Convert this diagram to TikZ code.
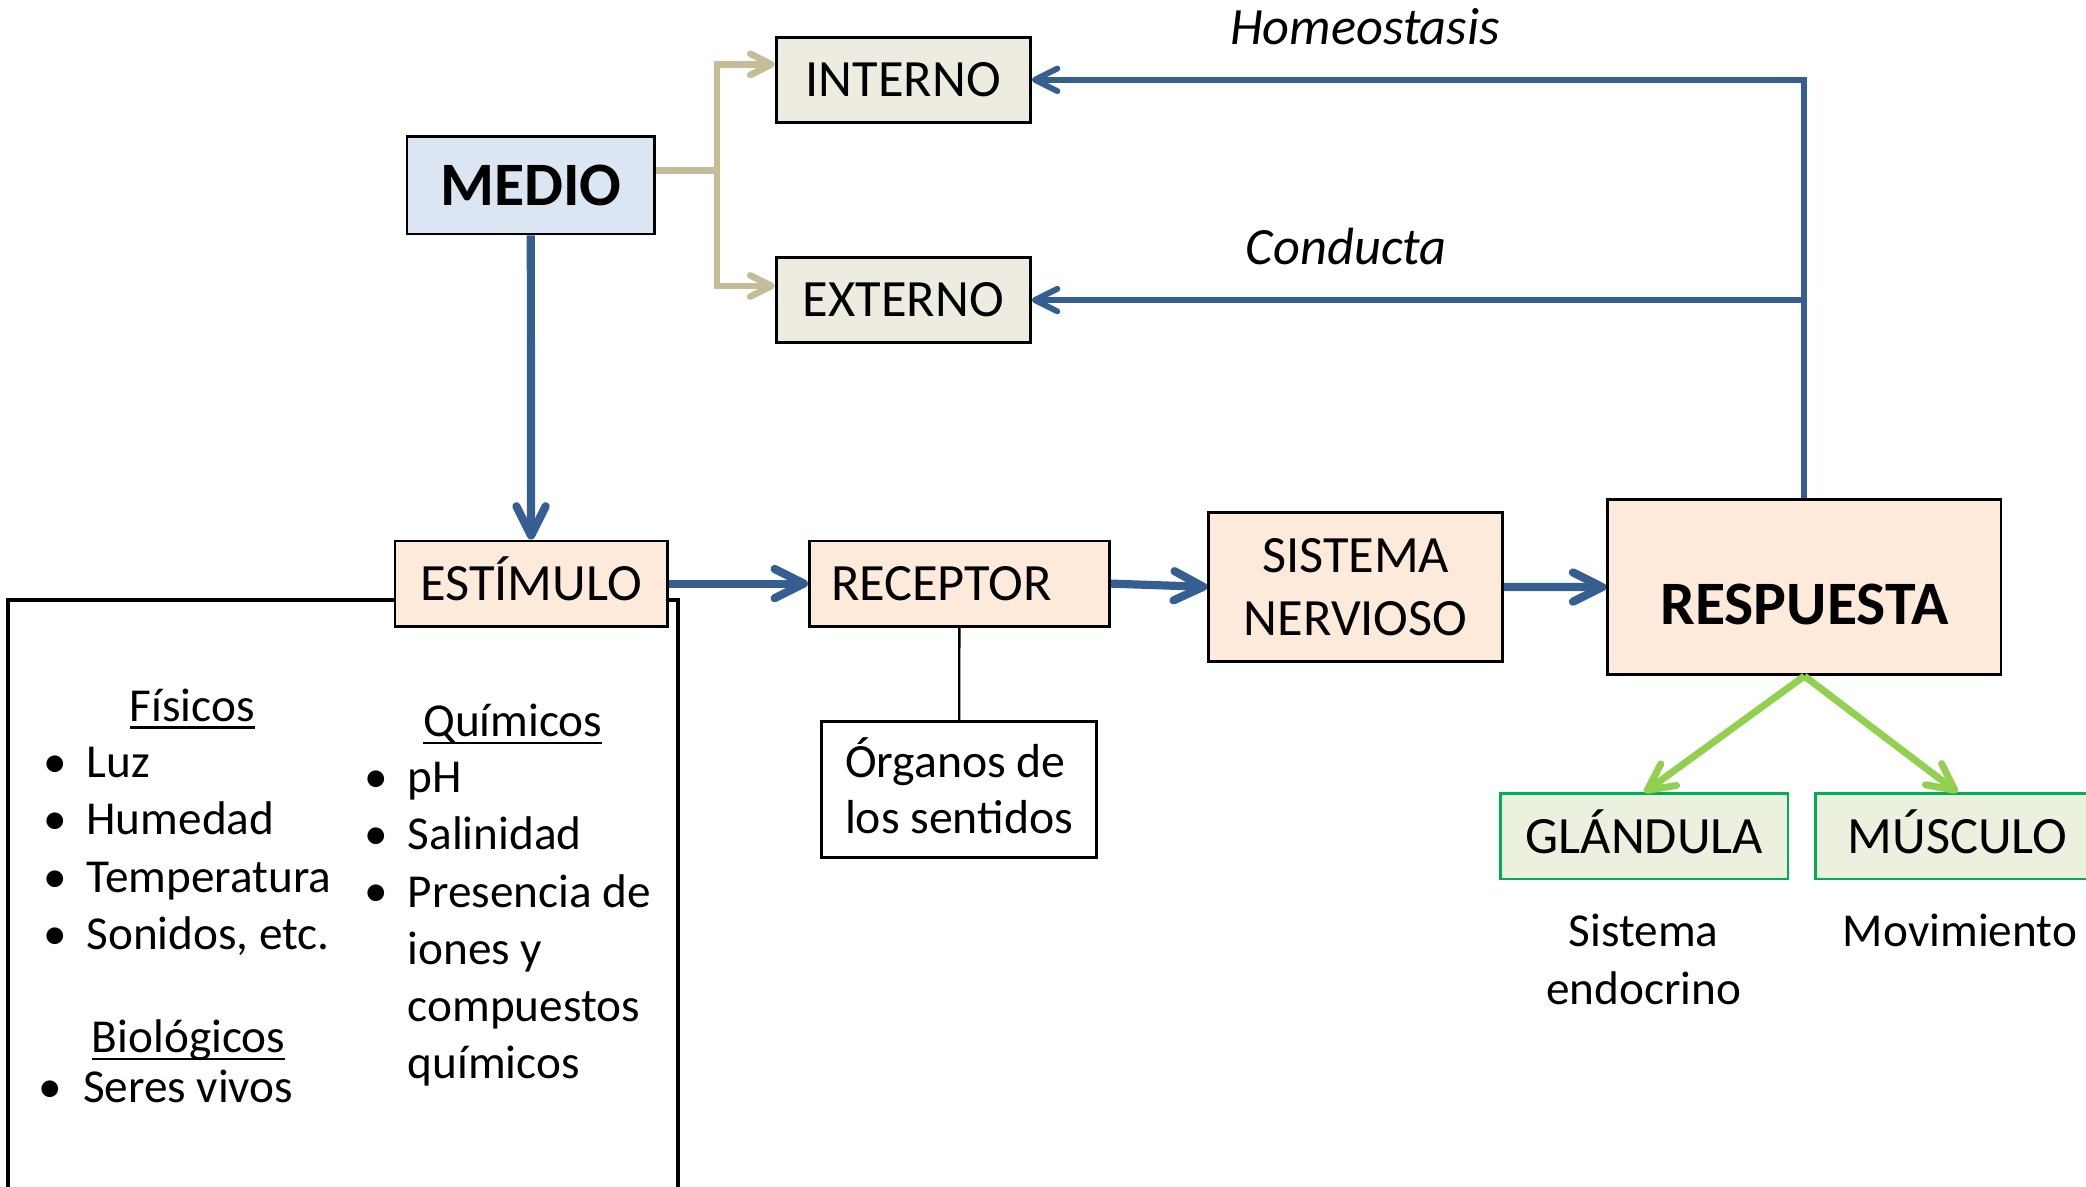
\documentclass[tikz,border=0pt]{standalone}
\usepackage{fontspec}
\setmainfont{Carlito}
\usepackage{tikz}
\usetikzlibrary{arrows.meta}
\definecolor{flowblue}{RGB}{54,95,145}
\definecolor{forktan}{RGB}{196,189,151}
\definecolor{armgreen}{RGB}{146,208,80}
\definecolor{glandgreen}{RGB}{0,176,80}
\definecolor{medioblue}{RGB}{220,230,242}
\definecolor{tanfill}{RGB}{238,236,225}
\definecolor{peach}{RGB}{253,234,218}
\definecolor{glandfill}{RGB}{235,241,222}
\newlength{\hdw}
\newcommand{\hdul}[1]{\settowidth{\hdw}{#1}#1\llap{\rule[-1.6pt]{\hdw}{0.45pt}}}

\begin{document}
\begin{tikzpicture}[x=0.01cm,y=-0.01cm]%
  \tikzstyle{boxn}=[rectangle,draw=black,line width=0.6pt,inner sep=0,minimum height=0.64cm,font=\fontsize{11.2}{13.4}\selectfont]
  \tikzstyle{capsn}=[text height=0.25cm,text depth=0pt]
  \tikzstyle{boldn}=[font=\fontsize{13.2}{15.8}\selectfont\bfseries]
  \tikzstyle{flown}=[draw=flowblue,line width=1.75pt,-{Straight Barb[length=2.2mm,width=2.2mm,round]}]
  \tikzstyle{feedn}=[draw=flowblue,line width=1.25pt,-{Straight Barb[length=1.7mm,width=1.7mm,round]}]
  \tikzstyle{tann}=[draw=forktan,line width=1.4pt]
  \tikzstyle{tanarr}=[tann,-{Straight Barb[length=1.6mm,width=1.6mm,round]}]
  \tikzstyle{grnn}=[draw=armgreen,line width=1.5pt,-{Straight Barb[length=2mm,width=2mm,round]}]
  \tikzstyle{txtn}=[inner sep=0,anchor=base,font=\fontsize{10.1}{12.35}\selectfont]
  \tikzstyle{listn}=[inner sep=0,anchor=base west,align=left,font=\fontsize{10.1}{12.2}\selectfont]
  \tikzstyle{bulletn}=[inner sep=0,anchor=base,font=\fontsize{10.1}{12.2}\selectfont]
  \useasboundingbox (0,0) rectangle (1568,892);
  % frame of the stimulus list
  \draw[line width=0.9pt] (6.3,900) -- (6.3,451) -- (509.6,451) -- (509.6,900);
  % boxes
  \node[boxn,boldn,fill=medioblue,minimum width=1.86cm,minimum height=0.73cm,text height=0.30cm,text depth=0pt] (medio) at (399,139.4) {MEDIO};
  \node[boxn,capsn,fill=tanfill,minimum width=1.91cm] (interno) at (679,60) {INTERNO};
  \node[boxn,capsn,fill=tanfill,minimum width=1.91cm] (externo) at (679,225.6) {EXTERNO};
  \node[boxn,capsn,fill=peach,minimum width=2.045cm] (estimulo) at (399.2,438.7) {ESTÍMULO};
  \node[boxn,capsn,fill=peach,minimum width=2.255cm,text width=1.93cm,align=left] (receptor) at (721.2,438.7) {RECEPTOR};
  \node[boxn,fill=peach,minimum width=2.207cm,minimum height=1.12cm,align=center] (sistema) at (1019,441.2) {SISTEMA\\NERVIOSO};
  \node[boxn,boldn,fill=peach,minimum width=2.954cm,minimum height=1.314cm,text height=0.56cm,text depth=0pt] (respuesta) at (1356.3,441.4) {RESPUESTA};
  \node[boxn,fill=white,minimum width=2.067cm,minimum height=1.02cm,align=left,font=\fontsize{10.2}{12}\selectfont] (organos) at (720.9,593.6) {Órganos de\\los sentidos\vphantom{g}};
  \node[boxn,capsn,fill=glandfill,draw=glandgreen,minimum width=2.16cm] (glandula) at (1236,628.7) {GLÁNDULA};
  \node[boxn,capsn,fill=glandfill,draw=glandgreen,minimum width=2.13cm] (musculo) at (1471.5,628.7) {MÚSCULO};
  % texts (multi-line ones sit on their last line)
  \node[txtn,font=\fontsize{11.2}{13.4}\selectfont\itshape] (homeo) at (1026,33.5) {Homeostasis};
  \node[txtn,font=\fontsize{11.2}{13.4}\selectfont\itshape] (conducta) at (1012,198.7) {Conducta};
  \node[txtn,align=center] (endocrino) at (1235.5,755) {Sistema\\endocrino};
  \node[txtn] (movimiento) at (1473.3,711.6) {Movimiento};
  \node[txtn] (fisicos) at (144.5,542) {\hdul{Físicos}};
  \node[txtn] (quimicos) at (385.5,553.8) {\hdul{Químicos}};
  \node[txtn] (biologicos) at (141.8,790.9) {\hdul{Biológicos}};
  \foreach \t [count=\i] in {Luz,Humedad,Temperatura,{Sonidos, etc.}} {
    \node[bulletn] (fb\i) at (41.7,{584.5+43.1*(\i-1)}) {\textbullet};
    \node[listn] (f\i) at (64.3,{584.5+43.1*(\i-1)}) {\t};
  }
  \foreach \t/\yl [count=\i] in {pH/595.5,Salinidad/638.5,{Presencia de\\iones y\\compuestos\\químicos}/810.5} {
    \node[bulletn] (qb\i) at (282.6,{595.5+43*(\i-1)}) {\textbullet};
    \node[listn] (q\i) at (305.8,\yl) {\t};
  }
  \node[bulletn] (bb1) at (38,828.8) {\textbullet};
  \node[listn] (b1) at (61.7,828.8) {Seres vivos};
  % connectors
  \draw[flown] (medio.south) -- (estimulo.north);
  \draw[flown] (estimulo) -- (receptor);
  \draw[flown] (receptor.east) -- (sistema.west);
  \draw[flown] (sistema) -- (respuesta);
  \draw[feedn] (respuesta.north) |- (interno.east);
  \draw[feedn] (respuesta.north |- externo.east) -- (externo.east);
  \draw[line width=0.5pt] (receptor) -- (organos);
  \draw[tann] ([yshift=1.14mm]medio.east) -- ++(46,0) coordinate (split);
  \draw[tanarr] (split) |- ([yshift=1.16mm]interno.west);
  \draw[tanarr] (split) |- ([yshift=1.06mm]externo.west);
  \draw[grnn] (respuesta.south) -- (glandula.north);
  \draw[grnn] (respuesta.south) -- (musculo.north);
\end{tikzpicture}
\end{document}
